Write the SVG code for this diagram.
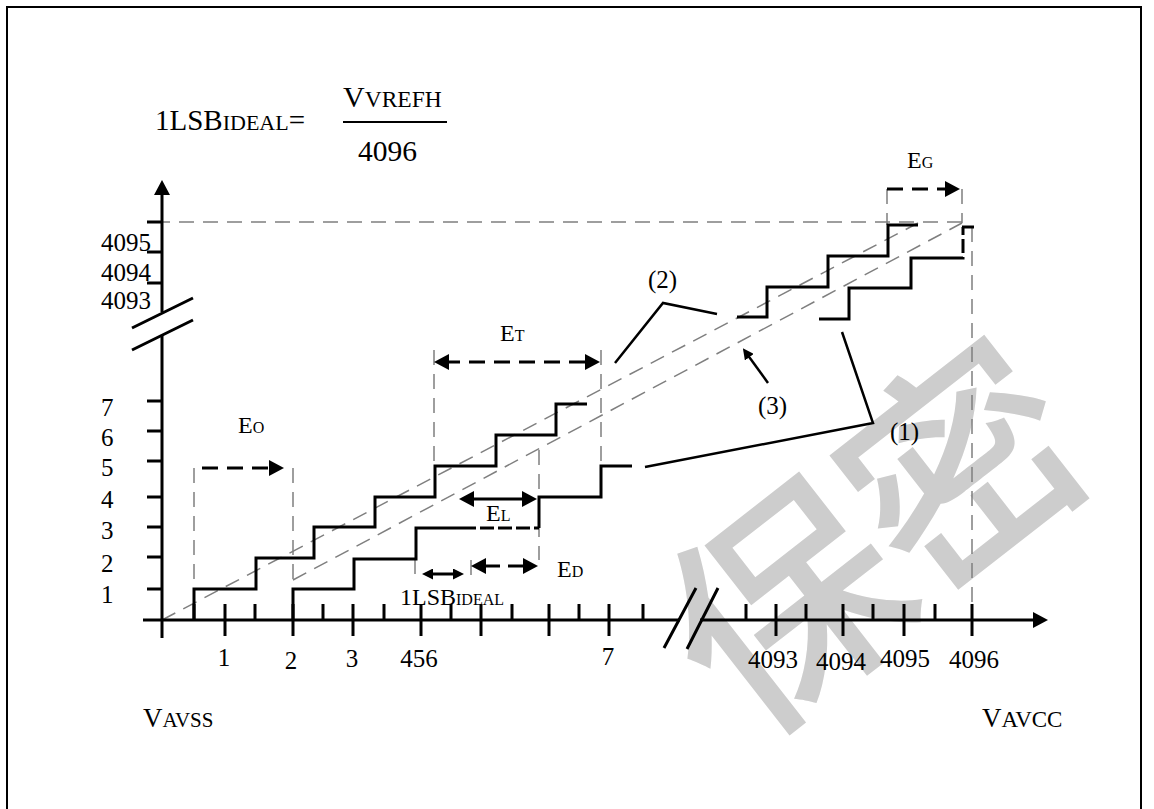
<svg xmlns="http://www.w3.org/2000/svg" width="1154" height="809" viewBox="0 0 1154 809">
<defs>
<style>
.ax{stroke:#000;stroke-width:3;fill:none}
.st{stroke:#000;stroke-width:3;fill:none}
.sd{stroke:#000;stroke-width:3;stroke-dasharray:14 4;fill:none}
.gd{stroke:#7f7f7f;stroke-width:1.5;stroke-dasharray:15 9;fill:none}
.bd{stroke:#000;stroke-width:3;stroke-dasharray:16 9;fill:none}
.ld{stroke:#000;stroke-width:2.5;fill:none}
text{font-family:"Liberation Serif","Times New Roman",serif;fill:#000}
.lb{font-size:25px}
.wm{font-family:"Noto Sans CJK SC",sans-serif;font-weight:500;font-size:230px;fill:#cdcdcd}
</style>
<marker id="ah" markerUnits="userSpaceOnUse" markerWidth="15" markerHeight="16" refX="5" refY="8" orient="auto-start-reverse" viewBox="0 0 15 16"><path d="M0,0 L15,8 L0,16 z" fill="#000"/></marker>
<marker id="as" markerUnits="userSpaceOnUse" markerWidth="11" markerHeight="11" refX="4" refY="5.5" orient="auto-start-reverse" viewBox="0 0 11 11"><path d="M0,0 L11,5.5 L0,11 z" fill="#000"/></marker>
</defs>
<rect x="0" y="0" width="1154" height="809" fill="#fff"/>
<g id="watermark">
<text class="wm" x="785" y="692" transform="rotate(-38 785 605)" text-anchor="middle">保</text>
<text class="wm" x="961" y="552" transform="rotate(-38 961 465)" text-anchor="middle">密</text>
</g>
<path id="frame" d="M7,809 V7 H1141 V809" fill="none" stroke="#000" stroke-width="2"/>
<g id="formula">
<text x="155" y="130" style="font-size:29px">1LSB<tspan style="font-size:22px">IDEAL</tspan>=</text>
<text x="343" y="107" style="font-size:30px">V<tspan style="font-size:23.5px">VREFH</tspan></text>
<line x1="343" y1="122" x2="447" y2="122" stroke="#000" stroke-width="2"/>
<text x="358" y="161" style="font-size:29.5px">4096</text>
</g>
<g id="guides">
<path class="gd" d="M155,222 H962"/>
<path class="gd" d="M162,620 L918,223"/>
<path class="gd" d="M293,580 L962,223"/>
<path class="gd" d="M194,468 V589"/>
<path class="gd" d="M293,468 V582"/>
<path class="gd" d="M434,350 V466"/>
<path class="gd" d="M601,350 V466"/>
<path class="gd" d="M539,450 V560"/>
<path class="gd" d="M415,559 V580"/>
<path class="gd" d="M471,560 V578"/>
<path class="gd" d="M887,189 V225"/>
<path class="gd" d="M962,189 V223"/>
<path class="gd" d="M972,227 V620"/>
</g>
<g id="axes">
<path class="ax" d="M162,638 V335"/>
<path class="ax" d="M162,312 V190" marker-end="url(#ah)"/>
<path class="ax" d="M143,620 H680"/>
<path class="ax" d="M700,620 H1038" marker-end="url(#ah)"/>
<path class="ax" d="M132,328 L193,298 M132,350 L193,320"/>
<path class="ax" d="M664,648 L696,588 M687,649 L718,588"/>
<path class="ax" d="M147,222 H162 M147,252 H162 M147,283 H162 M147,401 H162 M147,431 H162 M147,461 H162 M147,497 H162 M147,527 H162 M147,557 H162 M147,589 H162"/>
<path class="ax" d="M225,604 V636 M293,604 V636 M353,604 V636 M421,604 V636 M481,604 V636 M549,604 V636 M609,604 V636 M776,604 V636 M843,604 V636 M904,604 V636 M972,604 V636"/>
<path class="ax" d="M194,604 V620 M255,604 V620 M323,604 V620 M384,604 V620 M451,604 V620 M512,604 V620 M579,604 V620 M643,604 V620 M746,604 V620 M806,604 V620 M873,604 V620 M935,604 V620"/>
</g>
<g id="axis-labels" class="lb">
<text x="101" y="251">4095</text>
<text x="101" y="281">4094</text>
<text x="101" y="309">4093</text>
<text x="101" y="416">7</text>
<text x="101" y="446">6</text>
<text x="101" y="476">5</text>
<text x="101" y="508">4</text>
<text x="101" y="539">3</text>
<text x="101" y="572">2</text>
<text x="101" y="603">1</text>
<g text-anchor="middle">
<text x="224" y="666">1</text>
<text x="291" y="669">2</text>
<text x="352" y="667">3</text>
<text x="419" y="667">456</text>
<text x="608" y="665">7</text>
<text x="773" y="668">4093</text>
<text x="841" y="670">4094</text>
<text x="905" y="667">4095</text>
<text x="974" y="668">4096</text>
</g>
<text x="143" y="727" style="font-size:27px">V<tspan style="font-size:21px">AVSS</tspan></text>
<text x="982" y="727" style="font-size:27px">V<tspan style="font-size:23px">AVCC</tspan></text>
</g>
<g id="curve-2">
<path class="st" d="M194,620 V589 H256 V558 H314 V527 H375 V497 H435 V466 H496 V435 H556 V404 H587"/>
<path class="st" d="M737,317 H767 V287 H828 V256 H888 V225 H918"/>
</g>
<g id="curve-1">
<path class="st" d="M293,620 V589 H354 V559 H416 V528 H462"/>
<path class="sd" d="M462,528 H539"/>
<path class="st" d="M539,528 V497 H601 V466 H632"/>
<path class="st" d="M819,319 H849 V288 H911 V258 H950"/>
<path class="sd" d="M950,258 H963 V227"/>
<path class="st" d="M962,227 H974"/>
</g>
<g id="connectors">
<path class="bd" d="M202,468 H274" marker-end="url(#ah)"/>
<path class="bd" d="M444,362 H590" marker-start="url(#ah)" marker-end="url(#ah)"/>
<path class="bd" d="M887,189 H950" marker-end="url(#ah)"/>
<path class="ax" d="M469,499 H527" marker-start="url(#ah)" marker-end="url(#ah)"/>
<path class="ax" d="M429,574 H457" marker-start="url(#as)" marker-end="url(#as)"/>
<path class="ax" d="M481,566 H500" marker-start="url(#ah)"/>
<path class="ax" d="M508,566 H528" marker-end="url(#ah)"/>
<path class="ld" d="M615,363 L663,303 L717,314"/>
<path class="ld" d="M842,332 L873,423 L645,467"/>
<path class="ld" d="M768,383 L747,354" marker-end="url(#as)"/>
</g>
<g id="error-labels">
<text x="238" y="433" style="font-size:24px">E<tspan style="font-size:16px">O</tspan></text>
<text x="500" y="341" style="font-size:24px">E<tspan style="font-size:16px">T</tspan></text>
<text x="486" y="521" style="font-size:24px">E<tspan style="font-size:16px">L</tspan></text>
<text x="557" y="577" style="font-size:24px">E<tspan style="font-size:16px">D</tspan></text>
<text x="907" y="168" style="font-size:24px">E<tspan style="font-size:16px">G</tspan></text>
<text x="400" y="605" style="font-size:24px">1LSB<tspan style="font-size:16px">IDEAL</tspan></text>
<text x="648" y="288" style="font-size:25px">(2)</text>
<text x="758" y="414" style="font-size:25px">(3)</text>
<text x="890" y="440" style="font-size:25px">(1)</text>
</g>
</svg>
